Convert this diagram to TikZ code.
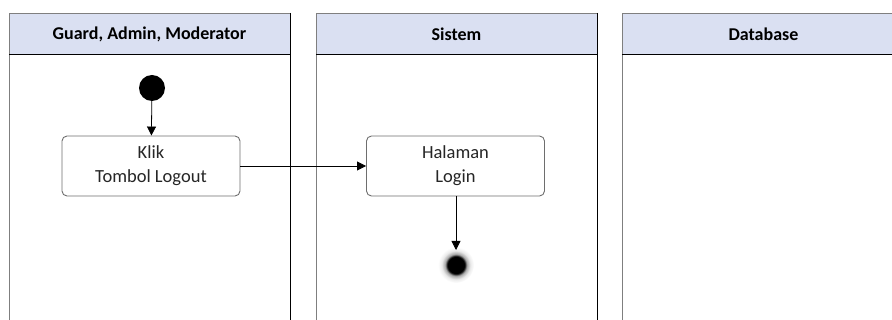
\documentclass[tikz,border=0pt]{standalone}
\usepackage{fontspec}
\setmainfont{Carlito}
\usetikzlibrary{arrows.meta}
\definecolor{laneHead}{HTML}{DAE0F2}
\definecolor{laneEdge}{HTML}{7F7F7F}
\definecolor{boxEdge}{HTML}{6E6E6E}
\pgfdeclareradialshading{endhalo}{\pgfpoint{0bp}{0bp}}{%
  color(0bp)=(black); color(12bp)=(black); color(15bp)=(black!35);
  color(20bp)=(black!8); color(25bp)=(white); color(50bp)=(white)}
\tikzset{
  x=1pt, y=-1pt,
  lanehead/.style={fill=laneHead, draw=laneEdge, line width=0.9pt},
  lanetitle/.style={font=\fontsize{18}{21}\selectfont\bfseries, text=black},
  action/.style={draw=boxEdge, line width=0.9pt, rounded corners=5pt, fill=white,
    minimum width=178pt, minimum height=60pt, align=center,
    font=\fontsize{18.5}{24}\selectfont, text=black!85},
  initial/.style={circle, fill=black, minimum size=26pt, inner sep=0pt},
  flow/.style={draw=black, line width=0.8pt, -{Triangle[length=9pt,width=9pt]}},
}
\begin{document}
\begin{tikzpicture}
\useasboundingbox (0,0) rectangle (892,320);
\clip (0,0) rectangle (892,320);

% swimlanes
\foreach \lx/\rx/\ttl/\nm in {9/290/{Guard, Admin, Moderator}/laneA,
                              316/597/Sistem/laneB,
                              622/905/Database/laneC}{
  \draw[lanehead] (\lx,13) rectangle (\rx,54);
  \draw[laneEdge, line width=0.9pt] (\lx,54) -- (\lx,330);
  \draw[black, line width=0.9pt] (\rx,13) -- (\rx,330);
  \draw[black, line width=0.9pt] (\lx,54) -- (\rx,54);
  \node[lanetitle] (\nm) at ({(\lx+\rx)/2},34) {\ttl};
}

% activity flow
\node[initial] (start) at (152,88) {};
\node[action] (klik) at (151,166) {Klik\\Tombol Logout};
\node[action] (halaman) at (455.5,166) {Halaman\\Login};
\coordinate (end) at (456,265);
\shade[shading=endhalo] (end) circle (18pt);

\draw[flow] (start) -- (klik);
\draw[flow] (klik) -- (halaman);
% the final arrow stops just above the halo of the end node
\draw[flow] (halaman.south -| end) -- ([yshift=15pt]end);
\end{tikzpicture}
\end{document}
